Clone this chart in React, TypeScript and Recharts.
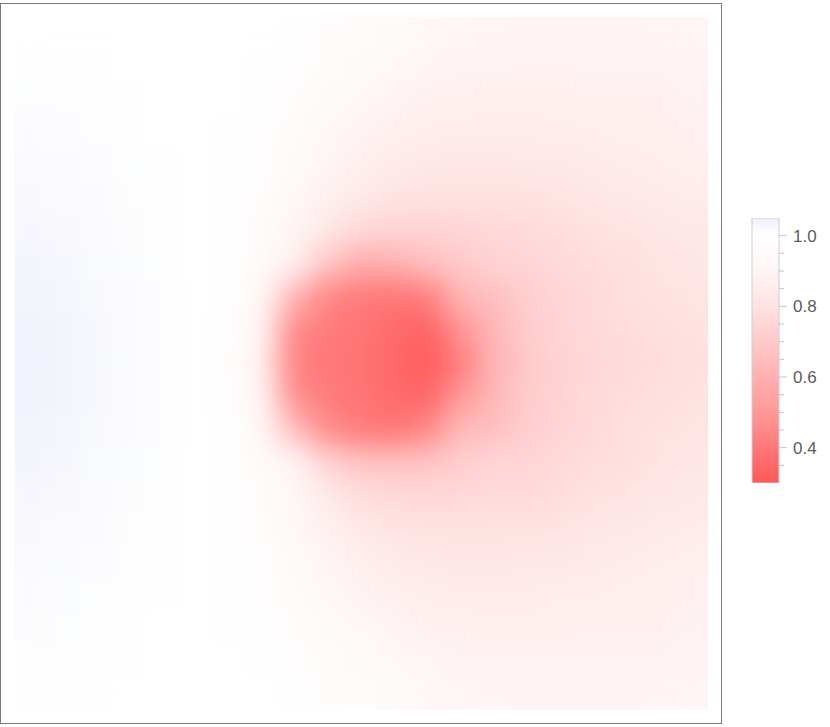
import React from "react";
import { ScatterChart, Scatter, XAxis, YAxis, BarChart, Bar } from "recharts";

// density values, one row per band from top to bottom, 21 columns left to right
const HEAT_ROWS: number[][] = [
  [1.0, 1.0, 1.0, 1.0, 1.0, 1.0, 1.0, 1.0, 0.99, 0.97, 0.96, 0.95, 0.93, 0.92, 0.91, 0.9, 0.9, 0.9, 0.9, 0.91, 0.91],
  [1.005, 1.003, 1.002, 1.0, 1.0, 1.0, 1.0, 0.99, 0.98, 0.96, 0.95, 0.93, 0.91, 0.89, 0.89, 0.89, 0.89, 0.89, 0.89, 0.89, 0.9],
  [1.008, 1.006, 1.004, 1.002, 1.0, 1.0, 1.0, 0.99, 0.97, 0.95, 0.93, 0.9, 0.88, 0.88, 0.87, 0.87, 0.87, 0.88, 0.88, 0.88, 0.89],
  [1.012, 1.009, 1.006, 1.003, 1.001, 1.0, 0.995, 0.98, 0.96, 0.93, 0.89, 0.87, 0.86, 0.85, 0.85, 0.85, 0.86, 0.86, 0.87, 0.87, 0.88],
  [1.017, 1.013, 1.009, 1.005, 1.002, 1.0, 0.99, 0.98, 0.95, 0.9, 0.87, 0.84, 0.83, 0.82, 0.82, 0.83, 0.83, 0.84, 0.85, 0.86, 0.87],
  [1.022, 1.018, 1.012, 1.007, 1.003, 1.0, 0.99, 0.97, 0.93, 0.88, 0.83, 0.81, 0.8, 0.8, 0.8, 0.8, 0.81, 0.82, 0.83, 0.84, 0.85],
  [1.027, 1.022, 1.015, 1.009, 1.004, 1.0, 0.99, 0.96, 0.9, 0.82, 0.76, 0.74, 0.74, 0.75, 0.76, 0.77, 0.78, 0.8, 0.81, 0.82, 0.83],
  [1.032, 1.027, 1.018, 1.011, 1.005, 1.0, 0.99, 0.95, 0.88, 0.68, 0.58, 0.6, 0.66, 0.7, 0.74, 0.75, 0.77, 0.78, 0.79, 0.81, 0.82],
  [1.037, 1.031, 1.021, 1.012, 1.006, 1.001, 0.99, 0.93, 0.62, 0.44, 0.41, 0.39, 0.42, 0.62, 0.66, 0.72, 0.75, 0.77, 0.79, 0.8, 0.81],
  [1.041, 1.034, 1.023, 1.013, 1.006, 1.001, 0.985, 0.9, 0.45, 0.41, 0.39, 0.36, 0.33, 0.48, 0.63, 0.71, 0.75, 0.77, 0.78, 0.79, 0.8],
  [1.043, 1.035, 1.024, 1.014, 1.006, 1.001, 0.985, 0.88, 0.43, 0.4, 0.38, 0.35, 0.31, 0.42, 0.61, 0.7, 0.74, 0.76, 0.77, 0.78, 0.79],
  [1.041, 1.034, 1.023, 1.013, 1.006, 1.001, 0.985, 0.9, 0.47, 0.41, 0.39, 0.36, 0.34, 0.5, 0.63, 0.71, 0.74, 0.77, 0.78, 0.79, 0.8],
  [1.037, 1.031, 1.021, 1.012, 1.006, 1.001, 0.99, 0.93, 0.66, 0.46, 0.41, 0.39, 0.45, 0.64, 0.66, 0.72, 0.75, 0.77, 0.79, 0.8, 0.81],
  [1.032, 1.027, 1.018, 1.011, 1.005, 1.0, 0.99, 0.95, 0.9, 0.74, 0.68, 0.68, 0.68, 0.72, 0.75, 0.75, 0.77, 0.78, 0.79, 0.81, 0.82],
  [1.027, 1.022, 1.015, 1.009, 1.004, 1.0, 0.99, 0.96, 0.92, 0.84, 0.78, 0.76, 0.76, 0.76, 0.77, 0.77, 0.78, 0.8, 0.81, 0.82, 0.83],
  [1.022, 1.018, 1.012, 1.007, 1.003, 1.0, 0.99, 0.97, 0.93, 0.88, 0.83, 0.81, 0.8, 0.8, 0.8, 0.8, 0.81, 0.82, 0.83, 0.84, 0.85],
  [1.017, 1.014, 1.01, 1.006, 1.002, 1.0, 0.99, 0.98, 0.95, 0.9, 0.87, 0.84, 0.83, 0.82, 0.82, 0.83, 0.83, 0.84, 0.85, 0.86, 0.87],
  [1.013, 1.011, 1.008, 1.004, 1.002, 1.0, 0.99, 0.98, 0.96, 0.93, 0.89, 0.87, 0.86, 0.85, 0.85, 0.85, 0.86, 0.86, 0.87, 0.87, 0.88],
  [1.01, 1.008, 1.006, 1.003, 1.001, 1.0, 0.995, 0.99, 0.97, 0.95, 0.93, 0.9, 0.88, 0.88, 0.87, 0.87, 0.87, 0.88, 0.88, 0.88, 0.89],
  [1.007, 1.006, 1.004, 1.002, 1.001, 1.0, 1.0, 0.99, 0.98, 0.96, 0.95, 0.93, 0.91, 0.89, 0.89, 0.89, 0.89, 0.89, 0.89, 0.89, 0.9],
  [1.005, 1.004, 1.003, 1.001, 1.0, 1.0, 1.0, 1.0, 0.99, 0.97, 0.96, 0.95, 0.93, 0.92, 0.91, 0.9, 0.9, 0.9, 0.9, 0.91, 0.91],
];

// colour scale stops (value -> colour)
const SCALE_VALUES = [0.3, 0.4, 0.5, 0.6, 0.7, 0.8, 0.9, 1.0, 1.05];
const SCALE_COLORS = ["#ff5858", "#ff7878", "#ff9898", "#ffb0b0", "#ffc8c8", "#ffe2e2", "#fff4f4", "#ffffff", "#eef0fb"];

const LEGEND_RANGE: [number, number] = [0.3, 1.05];
const LEGEND_TICKS = [0.35, 0.4, 0.45, 0.5, 0.55, 0.6, 0.65, 0.7, 0.75, 0.8, 0.85, 0.9, 0.95, 1.0];
const LEGEND_LABELS = [0.4, 0.6, 0.8, 1.0];

const COLS = HEAT_ROWS[0].length;
const ROWS = HEAT_ROWS.length;

const PLOT_LEFT = 15;
const PLOT_TOP = 17;
const PLOT_SIZE = 693;
const CELL = PLOT_SIZE / COLS;

const heatPoints = HEAT_ROWS.flatMap((row, r) =>
  row.map((v, c) => ({ col: c + 0.5, row: r + 0.5, v }))
);
const legendData = [{ name: "scale", range: LEGEND_RANGE }];

function hexToRgb(hex: string) {
  const n = parseInt(hex.slice(1), 16);
  return [(n >> 16) & 255, (n >> 8) & 255, n & 255];
}

function colorFor(v: number) {
  if (v <= SCALE_VALUES[0]) return SCALE_COLORS[0];
  for (let i = 1; i < SCALE_VALUES.length; i++) {
    if (v <= SCALE_VALUES[i]) {
      const t = (v - SCALE_VALUES[i - 1]) / (SCALE_VALUES[i] - SCALE_VALUES[i - 1]);
      const a = hexToRgb(SCALE_COLORS[i - 1]);
      const b = hexToRgb(SCALE_COLORS[i]);
      const c = a.map((x, k) => Math.round(x + (b[k] - x) * t));
      return `rgb(${c[0]},${c[1]},${c[2]})`;
    }
  }
  return SCALE_COLORS[SCALE_COLORS.length - 1];
}

function HeatCell(props: any) {
  const { cx, cy, payload } = props;
  const s = CELL + 1;
  return <rect x={cx - s / 2} y={cy - s / 2} width={s} height={s} fill={colorFor(payload.v)} />;
}

function LegendTick(props: any) {
  const { x, y, payload } = props;
  const major = LEGEND_LABELS.includes(payload.value);
  return (
    <g>
      <line x1={x} x2={x + (major ? 8 : 5)} y1={y} y2={y} stroke="#c4c4c4" strokeWidth={1} />
      {major && (
        <text
          x={x + 14}
          y={y}
          dy="0.36em"
          textAnchor="start"
          fontFamily="'Liberation Sans', Arial, sans-serif"
          fontSize={17}
          fill="#5c5c5c"
        >
          {payload.value.toFixed(1)}
        </text>
      )}
    </g>
  );
}

export default function App() {
  const span = LEGEND_RANGE[1] - LEGEND_RANGE[0];
  return (
    <div style={{ position: "absolute", left: 0, top: 0, width: 830, height: 727, background: "#fff" }}>
      <style>{`.heat-map .recharts-scatter { filter: url(#heat-blur); }`}</style>
      <svg width={0} height={0} style={{ position: "absolute" }}>
        <defs>
          <filter
            id="heat-blur"
            filterUnits="userSpaceOnUse"
            x={PLOT_LEFT}
            y={PLOT_TOP}
            width={PLOT_SIZE}
            height={PLOT_SIZE}
            colorInterpolationFilters="sRGB"
          >
            <feGaussianBlur stdDeviation={14} />
            <feComponentTransfer>
              <feFuncA type="discrete" tableValues="1" />
            </feComponentTransfer>
          </filter>
          <linearGradient id="scale-grad" x1="0" y1="1" x2="0" y2="0">
            {SCALE_VALUES.map((v, i) => (
              <stop key={v} offset={(v - LEGEND_RANGE[0]) / span} stopColor={SCALE_COLORS[i]} />
            ))}
          </linearGradient>
        </defs>
      </svg>

      <div
        style={{
          position: "absolute",
          left: 0,
          top: 3,
          width: 722,
          height: 721,
          boxSizing: "border-box",
          border: "1px solid #7a7a7a",
        }}
      />

      <div className="heat-map" style={{ position: "absolute", left: 0, top: 0 }}>
        <ScatterChart
          width={830}
          height={727}
          margin={{ top: PLOT_TOP, left: PLOT_LEFT, right: 830 - PLOT_LEFT - PLOT_SIZE, bottom: 727 - PLOT_TOP - PLOT_SIZE }}
        >
          <XAxis type="number" dataKey="col" domain={[0, COLS]} hide />
          <YAxis type="number" dataKey="row" domain={[0, ROWS]} reversed hide />
          <Scatter data={heatPoints} shape={HeatCell} isAnimationActive={false} />
        </ScatterChart>
      </div>

      <div style={{ position: "absolute", left: 740, top: 200 }}>
        <BarChart width={90} height={300} data={legendData} barCategoryGap={0} margin={{ top: 18, right: 0, bottom: 17, left: 12 }}>
          <XAxis dataKey="name" hide />
          <YAxis
            orientation="right"
            type="number"
            domain={LEGEND_RANGE}
            ticks={LEGEND_TICKS}
            interval={0}
            width={51}
            axisLine={false}
            tickLine={false}
            tickSize={0}
            tickMargin={0}
            tick={<LegendTick />}
            allowDataOverflow
          />
          <Bar dataKey="range" fill="url(#scale-grad)" stroke="#cdcdd6" strokeWidth={1} isAnimationActive={false} />
        </BarChart>
      </div>
    </div>
  );
}
